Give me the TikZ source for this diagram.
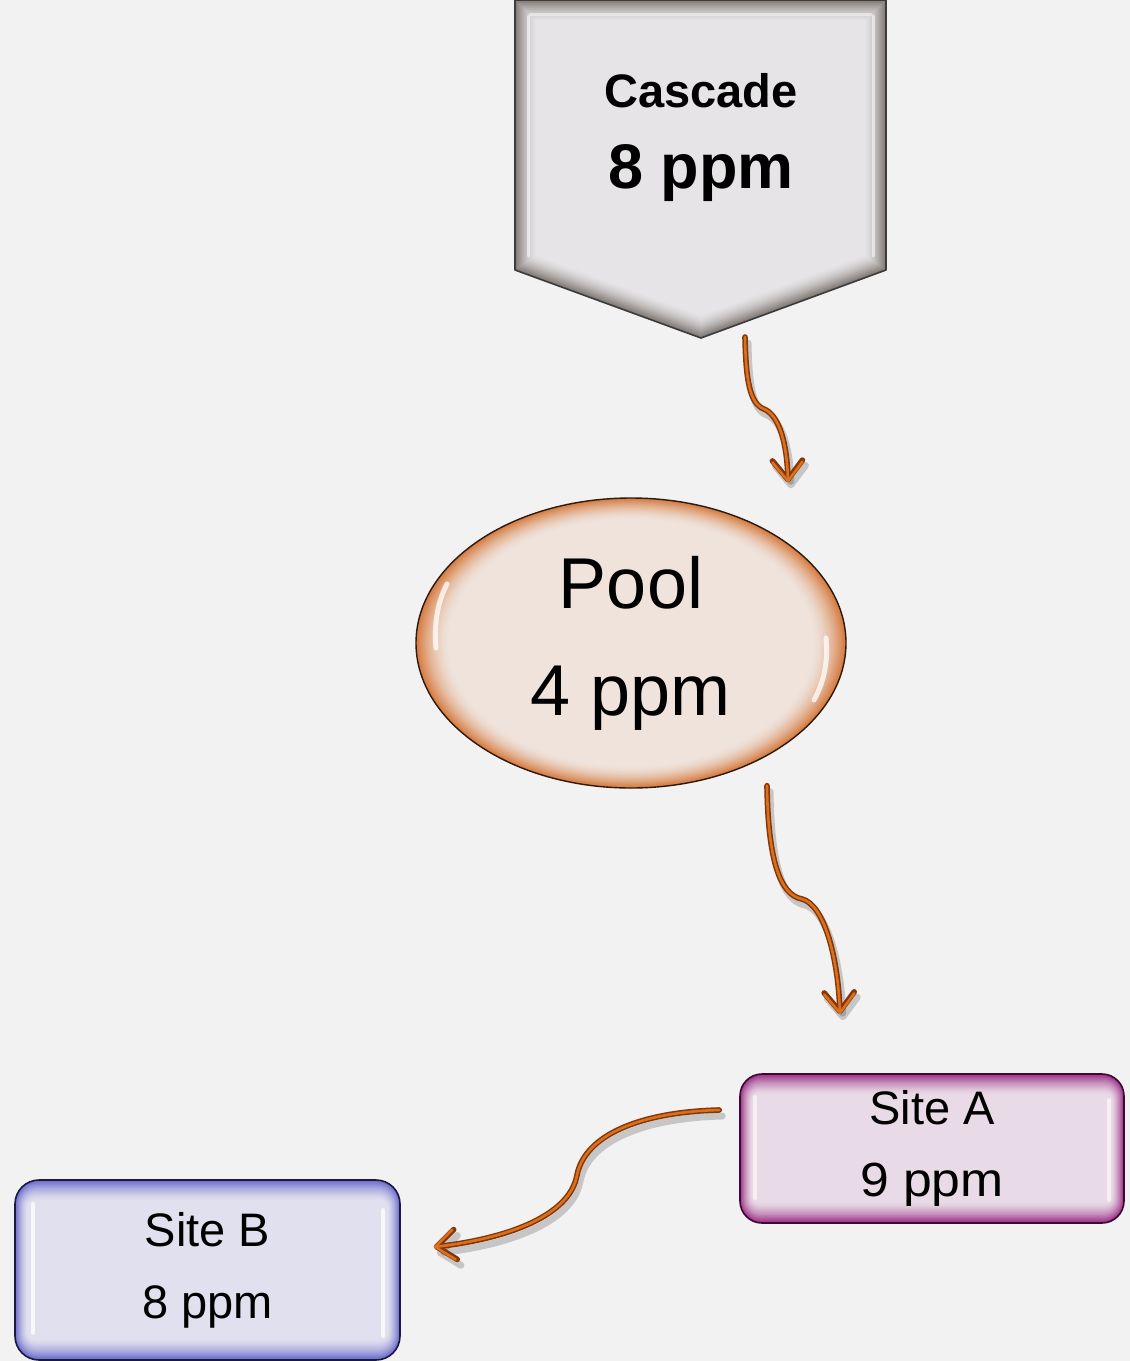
\documentclass[tikz,border=0pt]{standalone}
\usepackage{fontspec}
\setmainfont{Liberation Sans}
\usetikzlibrary{arrows.meta,shapes.geometric,calc}
\definecolor{bg}{HTML}{F2F2F2}
\definecolor{cedge}{HTML}{7E7772}
\definecolor{cfill}{HTML}{E6E4E6}
\definecolor{cborder}{HTML}{3C3C3C}
\definecolor{pedge}{HTML}{D5793C}
\definecolor{pfill}{HTML}{EFE3DC}
\definecolor{pborder}{HTML}{2A1A10}
\definecolor{aedge}{HTML}{9C2F86}
\definecolor{afill}{HTML}{E8DAE6}
\definecolor{aborder}{HTML}{3A0A30}
\definecolor{bedge}{HTML}{6A6ACC}
\definecolor{bfill}{HTML}{E0E0EE}
\definecolor{bborder}{HTML}{1A1A40}
\definecolor{arrdark}{HTML}{853506}
\definecolor{arrlight}{HTML}{D8711F}
\begin{document}
\begin{tikzpicture}[x=1pt,y=-1pt,
  tipshape/.style={-{Straight Barb[length=19pt,width=30pt,round]}},
  arrshadow/.style={tipshape, draw=black, opacity=.18, line width=7pt, line cap=round,
    transform canvas={shift={(3pt,-6pt)}}},
  arrout/.style={tipshape, draw=arrdark, line width=5.6pt, line cap=round},
  arrin/.style={tipshape, draw=arrlight, line width=2.6pt, line cap=round},
  shine/.style={draw=white, line width=4pt, line cap=round, opacity=.75},
  sitetext/.style={align=center, font=\fontsize{47pt}{72pt}\selectfont, text=black},
]
\fill[bg] (0,0) rectangle (1130,1361);
\useasboundingbox (0,0) rectangle (1130,1361);

% ---------- Cascade (pentagon) ----------
\foreach \k in {0,...,22} {
  \pgfmathtruncatemacro\p{100*(1-\k/22)^1.6}
  \fill[cedge!\p!cfill] (515+\k,\k) -- (886-\k,\k) -- (886-\k,270-0.7*\k)
     -- (701,338-1.066*\k) -- (515+\k,270-0.7*\k) -- cycle;
}
\draw[shine, opacity=.55, line width=3pt] (528,16) -- (528,256);
\draw[shine, opacity=.55, line width=3pt] (873,16) -- (873,256);
\draw[shine, opacity=.45, line width=3pt] (530,14) -- (871,14);
\draw[cborder, line width=1.6pt, line join=round] (515,0) -- (886,0) -- (886,270) -- (701,338) -- (515,270) -- cycle;
\coordinate (cascTip) at (701,338);
\node[align=center, font=\bfseries\fontsize{63pt}{81pt}\selectfont, inner sep=0pt] (casc) at (701,138)
  {{\fontsize{47pt}{81pt}\selectfont Cascade}\\8 ppm};

% ---------- Pool (ellipse) ----------
\foreach \k in {0,...,26} {
  \pgfmathtruncatemacro\p{100*(1-\k/26)^1.7}
  \fill[pedge!\p!pfill] (631,643) ellipse [x radius=215-1.3*\k, y radius=145-0.85*\k];
}
\draw[shine, line width=5pt] (447,584) .. controls (437,603) and (434,625) .. (436,648);
\draw[shine, line width=5pt] (826,638) .. controls (828,660) and (825,680) .. (814,700);
\node[ellipse, draw=pborder, line width=1.4pt, minimum width=430pt, minimum height=290pt,
  inner sep=0pt, align=center, font=\fontsize{72pt}{107pt}\selectfont, text=black] (pool) at (631,643)
  {\raisebox{-5pt}{Pool}\\\raisebox{-5pt}{4 ppm}};

% ---------- Site A ----------
\foreach \k in {0,...,18} {
  \pgfmathtruncatemacro\p{100*(1-\k/18)^1.5}
  \pgfmathsetmacro\r{22-0.9*\k}
  \fill[aedge!\p!afill, rounded corners=\r pt] (740+0.7*\k,1074+1.15*\k) rectangle (1124-0.7*\k,1223-1.15*\k);
}
\draw[shine, draw=white!85!pink] (755,1097) -- (755,1198);
\draw[shine, draw=white!85!pink] (1109,1100) -- (1109,1200);
\node[rectangle, rounded corners=22pt, draw=aborder, line width=1.6pt, minimum width=384pt,
  minimum height=149pt, inner sep=0pt, sitetext] (siteA) at (932,1148.5)
  {\raisebox{-5pt}{Site A}\\\raisebox{-5pt}{\scalebox{1.1}[1.02]{9 ppm}}};

% ---------- Site B ----------
\foreach \k in {0,...,18} {
  \pgfmathtruncatemacro\p{100*(1-\k/18)^1.5}
  \pgfmathsetmacro\r{24-0.9*\k}
  \fill[bedge!\p!bfill, rounded corners=\r pt] (15+0.7*\k,1180+1.15*\k) rectangle (400-0.7*\k,1360-1.15*\k);
}
\draw[shine] (33,1204) -- (33,1333);
\draw[shine] (383,1210) -- (383,1336);
\node[rectangle, rounded corners=24pt, draw=bborder, line width=1.6pt, minimum width=385pt,
  minimum height=180pt, inner sep=0pt, sitetext] (siteB) at (207.5,1270)
  {\raisebox{-6pt}{Site B}\\\raisebox{-6pt}{8 ppm}};

% ---------- connectors ----------
\coordinate (a1s) at ($(cascTip)+(44,-1)$);
\coordinate (a1e) at ($(pool.north)+(157,-15)$);
\coordinate (a2s) at ($(pool.south)+(136,-3)$);
\coordinate (a2e) at ($(siteA.north)+(-92,-59)$);
\coordinate (a3s) at ($(siteA.west)+(-20,-38.5)$);
\coordinate (a3e) at ($(siteB.east)+(33,-23)$);

\foreach \st in {arrshadow,arrout,arrin} {
  \draw[\st] (a1s) .. controls (746,390) and (752,405) .. (766,410)
     .. controls (780,418) and (787,445) .. (a1e);
  \draw[\st] (a2s) .. controls (768,860) and (780,895) .. (802,899)
     .. controls (825,905) and (838,960) .. (a2e);
  \draw[\st] (a3s) .. controls (640,1112) and (585,1135) .. (577,1175)
     .. controls (570,1215) and (510,1238) .. (a3e);
}
\end{tikzpicture}
\end{document}
